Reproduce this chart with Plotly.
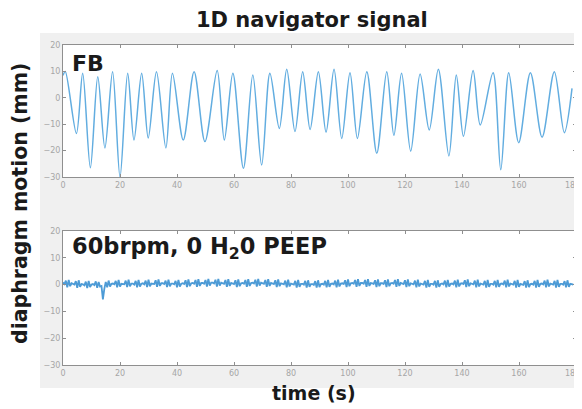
import numpy as np
import plotly.graph_objects as go
from plotly.subplots import make_subplots

# ---- top panel (FB): extrema of the navigator trace ----
top_t = [0, 0.8, 4.7, 6.9, 9.6, 12.2, 14.7, 17.4, 20.0, 22.7, 24.9, 27.6, 29.9, 32.8,
         36.1, 38.4, 42.2, 46.0, 49.8, 54.1, 56.6, 59.6, 63.3, 66.6, 69.7, 72.6, 75.9,
         78.5, 81.4, 84.1, 86.7, 89.6, 92.3, 95.1, 97.8, 100.7, 103.3, 106.6, 110.1,
         113.6, 116.1, 118.8, 122.0, 125.3, 128.5, 131.7, 135.4, 138.0, 140.5, 143.9,
         146.4, 150.9, 153.6, 156.4, 159.9, 164.0, 168.1, 172.4, 175.9, 178.6]
top_v = [8.5, 10.0, -13.5, 9.3, -26.5, 8.0, -19.0, 9.9, -30.0, 9.3, -16.0, 9.3, -15.2, 9.9,
         -19.0, 9.3, -16.0, 9.9, -16.6, 10.3, -16.0, 9.3, -26.7, 8.6, -25.5, 9.3, -11.6,
         10.8, -12.8, 9.9, -12.0, 9.9, -13.0, 10.8, -15.4, 9.5, -15.4, 9.9, -21.0,
         9.9, -14.2, 9.3, -20.2, 9.0, -12.2, 10.8, -22.0, 8.6, -14.6, 10.3,
         -10.3, 9.5, -27.3, 9.5, -17.0, 9.5, -14.9, 9.9, -13.2, 3.6]

# ---- bottom panel (60 brpm): samples every 0.5 s ----
bot_step = 0.5
bot_v = [
    0.8, 0.2, 1.5, -1.0, 1.7, -0.6, 0.5,
    0.3, 0.0, 1.3, -1.2, 1.6, -0.8, 0.2,
    0.1, -0.3, 1.1, -1.3, 1.4, -0.9, 0.0,
    0.2, -0.2, 1.2, -1.2, 1.0, -0.7, -0.5,
    -5.5, -1.6, 1.0, -1.0, 1.5, -0.7, 0.3,
    0.4, 0.1, 1.4, -1.0, 1.7, -0.7, 0.3,
    0.3, 0.1, 1.5, -0.9, 1.8, -0.6, 0.4,
    0.4, 0.0, 1.4, -1.0, 1.7, -0.7, 0.3,
    0.5, 0.1, 1.5, -0.9, 1.8, -0.6, 0.4,
    0.4, 0.2, 1.6, -0.8, 1.9, -0.5, 0.5,
    0.5, 0.2, 1.5, -0.9, 1.8, -0.6, 0.4,
    0.4, 0.1, 1.4, -1.0, 1.7, -0.7, 0.3,
    0.5, 0.2, 1.6, -0.9, 1.9, -0.6, 0.5,
    0.6, 0.3, 1.7, -0.8, 2.0, -0.5, 0.6,
    0.6, 0.3, 1.7, -0.7, 2.1, -0.4, 0.7,
    0.7, 0.4, 1.8, -0.7, 2.1, -0.4, 0.7,
    0.6, 0.3, 1.7, -0.8, 2.0, -0.5, 0.6,
    0.5, 0.2, 1.6, -0.9, 1.9, -0.6, 0.5,
    0.6, 0.3, 1.7, -0.8, 2.0, -0.5, 0.6,
    0.7, 0.4, 1.8, -0.7, 2.1, -0.4, 0.7,
    0.6, 0.3, 1.7, -0.8, 2.0, -0.5, 0.6,
    0.5, 0.2, 1.6, -0.9, 1.9, -0.6, 0.5,
    0.4, 0.1, 1.5, -1.0, 1.8, -0.7, 0.4,
    0.3, 0.0, 1.4, -1.1, 1.7, -0.8, 0.3,
    0.3, 0.0, 1.4, -1.1, 1.6, -0.8, 0.2,
    0.2, -0.1, 1.3, -1.1, 1.6, -0.9, 0.2,
    0.3, 0.0, 1.4, -1.0, 1.7, -0.8, 0.3,
    0.4, 0.1, 1.5, -1.0, 1.8, -0.7, 0.4,
    0.5, 0.2, 1.6, -0.9, 1.9, -0.6, 0.5,
    0.6, 0.3, 1.7, -0.8, 2.0, -0.5, 0.6,
    0.6, 0.3, 1.7, -0.8, 2.0, -0.5, 0.6,
    0.5, 0.2, 1.6, -0.9, 1.9, -0.6, 0.5,
    0.5, 0.2, 1.6, -0.9, 1.9, -0.6, 0.5,
    0.6, 0.3, 1.7, -0.8, 2.0, -0.5, 0.6,
    0.5, 0.2, 1.6, -0.9, 1.9, -0.6, 0.5,
    0.4, 0.1, 1.5, -1.0, 1.8, -0.7, 0.4,
    0.3, 0.0, 1.4, -1.1, 1.7, -0.8, 0.3,
    0.3, 0.0, 1.4, -1.1, 1.6, -0.8, 0.2,
    0.4, 0.1, 1.5, -1.0, 1.7, -0.7, 0.3,
    0.4, 0.1, 1.5, -1.0, 1.8, -0.7, 0.4,
    0.5, 0.2, 1.6, -0.9, 1.9, -0.6, 0.5,
    0.4, 0.1, 1.5, -1.0, 1.8, -0.7, 0.4,
    0.3, 0.0, 1.4, -1.1, 1.7, -0.8, 0.3,
    0.3, 0.0, 1.4, -1.0, 1.7, -0.8, 0.3,
    0.4, 0.1, 1.5, -1.0, 1.8, -0.7, 0.4,
    0.3, 0.0, 1.4, -1.1, 1.7, -0.8, 0.3,
    0.2, -0.1, 1.3, -1.1, 1.6, -0.9, 0.2,
    0.3, 0.0, 1.4, -1.1, 1.7, -0.8, 0.3,
    0.4, 0.1, 1.5, -1.0, 1.8, -0.7, 0.4,
    0.3, 0.0, 1.4, -1.1, 1.7, -0.8, 0.3,
    0.3, 0.0, 1.3, -1.0, 1.6, -0.8, 0.3,
    0.2, 0.0,
]
bot_t = [i * bot_step for i in range(len(bot_v))]

x_ticks = [0, 20, 40, 60, 80, 100, 120, 140, 160, 180]
y_ticks = [-30, -20, -10, 0, 10, 20]

title_text = "1D navigator signal"
ylabel_text = "diaphragm motion (mm)"
xlabel_text = "time (s)"
label_top = "FB"
label_bot = "60brpm, 0 H<sub>2</sub>0 PEEP"

# ---------------------------------------------------------------------------
# The page body adds an 8 px offset; the figure is sized to fill the rest of
# the 582x409 window, and positions below are given in window pixels.
OFF = 8
W, H = 582 - OFF, 409 - OFF
ml, mr, mt, mb = 63 - OFF, 6, 45 - OFF, 44
pw, ph = W - ml - mr, H - mt - mb

def px_x(p):
    return (p - OFF - ml) / pw

def px_y(p):
    return (H - mb - (p - OFF)) / ph

top_dom = [px_y(177), px_y(45)]
bot_dom = [px_y(365), px_y(231)]

fig = make_subplots(rows=2, cols=1)
fig.add_trace(go.Scatter(x=top_t, y=top_v, mode="lines",
                         line=dict(color="#62ade0", width=1.5, shape="spline", smoothing=0.9),
                         hoverinfo="skip"), row=1, col=1)
fig.add_trace(go.Scatter(x=bot_t, y=bot_v, mode="lines",
                         line=dict(color="#4d9bd6", width=1.8),
                         hoverinfo="skip"), row=2, col=1)

tick_font = dict(family="DejaVu Sans", size=8, color="#a6a6a6")
# the last x tick label sits at the window edge; it is drawn as an annotation
x_ticktext = [str(v) for v in x_ticks[:-1]] + [""]
axis_common = dict(range=[0, 180], tickvals=x_ticks, ticktext=x_ticktext,
                   ticks="inside", ticklen=3,
                   tickcolor="#8f8f8f", showline=True, linecolor="#8f8f8f", linewidth=1,
                   mirror="ticks", showgrid=False, zeroline=False, tickfont=tick_font,
                   automargin=False)
yaxis_common = dict(range=[-30, 20], tickvals=y_ticks, ticks="inside", ticklen=3,
                    tickcolor="#8f8f8f", showline=True, linecolor="#8f8f8f", linewidth=1,
                    mirror="ticks", showgrid=False, zeroline=False, tickfont=tick_font,
                    automargin=False)

fig.update_layout(
    width=W, height=H, margin=dict(l=ml, r=mr, t=mt, b=mb, autoexpand=False),
    paper_bgcolor="white", plot_bgcolor="rgba(0,0,0,0)", showlegend=False,
    xaxis=dict(domain=[0, 1], anchor="y", **axis_common),
    yaxis=dict(domain=top_dom, anchor="x", **yaxis_common),
    xaxis2=dict(domain=[0, 1], anchor="y2", **axis_common),
    yaxis2=dict(domain=bot_dom, anchor="x2", **yaxis_common),
)

for xr, yr in (("x", "y"), ("x2", "y2")):
    fig.add_annotation(text=str(x_ticks[-1]), xref=xr, yref=yr, x=x_ticks[-1], y=y_ticks[0],
                       showarrow=False, xanchor="center", yanchor="top",
                       xshift=-4, yshift=-2, font=tick_font)

# gray figure backdrop and white axes areas
fig.add_shape(type="rect", xref="paper", yref="paper", layer="below",
              x0=px_x(40), x1=px_x(590), y0=px_y(388), y1=px_y(33),
              fillcolor="#f0f0f0", line=dict(width=0))
for dom in (top_dom, bot_dom):
    fig.add_shape(type="rect", xref="paper", yref="paper", layer="below",
                  x0=0, x1=1, y0=dom[0], y1=dom[1],
                  fillcolor="white", line=dict(width=0))

bold = dict(family="DejaVu Sans", color="#1a1a1a")
fig.add_annotation(text="<b>%s</b>" % title_text, xref="paper", yref="paper",
                   x=px_x(311.5), y=px_y(20), showarrow=False,
                   xanchor="center", yanchor="middle", font=dict(size=21, **bold))
fig.add_annotation(text="<b>%s</b>" % ylabel_text, xref="paper", yref="paper",
                   x=px_x(20), y=px_y(204), showarrow=False, textangle=-90,
                   xanchor="center", yanchor="middle", font=dict(size=20.5, **bold))
fig.add_annotation(text="<b>%s</b>" % xlabel_text, xref="paper", yref="paper",
                   x=px_x(314), y=px_y(393), showarrow=False,
                   xanchor="center", yanchor="middle", font=dict(size=19, **bold))
fig.add_annotation(text="<b>%s</b>" % label_top, xref="paper", yref="paper",
                   x=px_x(70), y=px_y(64), showarrow=False,
                   xanchor="left", yanchor="middle", font=dict(size=22, **bold))
fig.add_annotation(text="<b>%s</b>" % label_bot, xref="paper", yref="paper",
                   x=px_x(70), y=px_y(248), showarrow=False,
                   xanchor="left", yanchor="middle", font=dict(size=22.5, **bold))

fig.write_html("out.html")
